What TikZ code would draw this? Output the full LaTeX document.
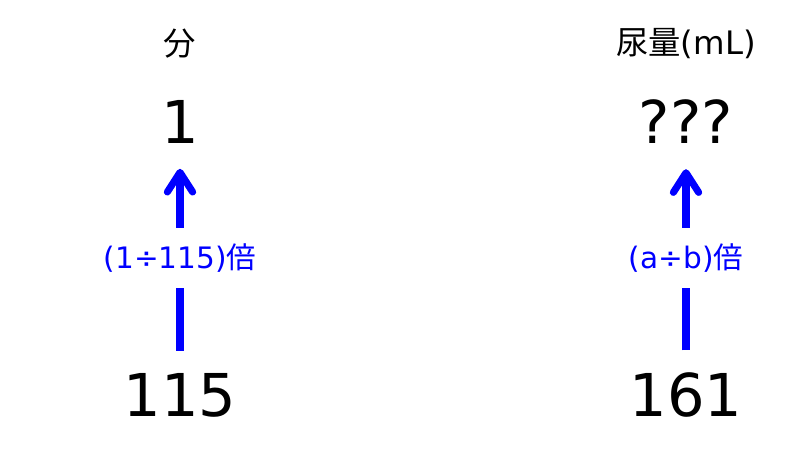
\documentclass[tikz,border=0pt]{standalone}
\usepackage{fontspec}
\setmainfont{DejaVu Sans}
\newfontfamily\jpfont{Noto Sans CJK JP}
\usetikzlibrary{arrows.meta}
\definecolor{ratioblue}{RGB}{0,0,255}

\tikzstyle{head} = [font=\fontsize{23}{27}\selectfont, inner sep=0pt]
\tikzstyle{value} = [font=\fontsize{42}{50}\selectfont, inner sep=0pt]

\begin{document}
\begin{tikzpicture}[x=0.025cm, y=-0.025cm, >={Straight Barb[length=14pt, width=18pt, round]}]
	\tikzstyle{ratio}=[text=ratioblue, font=\fontsize{21}{25}\selectfont, inner sep=0pt, minimum height=1.5cm]
	\tikzstyle{rise}=[draw=ratioblue, line width=5pt]
\useasboundingbox (0,0) rectangle (800,450);
  % left column: minutes
  \node[head] (minhead) at (180,44) {{\jpfont 分}};
  \node[value] (min1) at (180,122) {1};
  \node[ratio] (minratio) at (180,258) {(1÷115){\jpfont 倍}};
  \node[value] (min115) at (180,395) {115};
  % right column: urine volume
  \node[head] (volhead) at (686,44) {{\jpfont 尿量}(mL)};
  \node[value] (volq) at (686,122) {???};
  \node[ratio] (volratio) at (686,258) {(a÷b){\jpfont 倍}};
  \node[value] (vol161) at (686,395) {161};
\draw[rise, shorten <=0.55cm] (min115) -- (minratio);
\draw[rise, ->, shorten >=0.625cm] (minratio) -- (min1);
\draw[rise, shorten <=0.55cm] (vol161) -- (volratio);
\draw[rise, ->, shorten >=0.625cm] (volratio) -- (volq);
\end{tikzpicture}
\end{document}
